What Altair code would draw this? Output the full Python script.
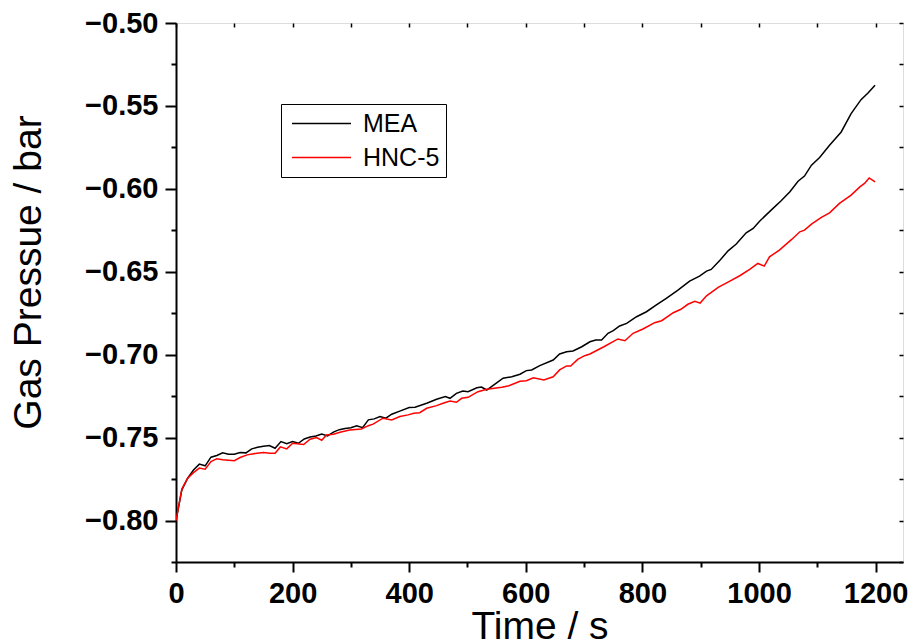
import altair as alt
import pandas as pd

series_names = ["MEA", "HNC-5"]
series_colors = ["#000000", "#ff0000"]

mea_t = [0, 10, 20, 30, 40, 50, 60, 70, 80, 90, 100, 110, 120, 130, 140, 150, 160, 170, 180, 190,
         200, 210, 220, 230, 240, 250, 260, 270, 280, 290, 300, 310, 320, 330, 340, 350, 360, 370,
         385, 400, 410, 430, 447, 462, 470, 481, 492, 501, 516, 524, 533, 547, 561, 576, 590, 601,
         610, 624, 647, 658, 670, 681, 696, 710, 720, 730, 741, 750, 761, 773, 790, 807, 824, 841,
         861, 881, 898, 910, 918, 933, 947, 961, 978, 990, 1001, 1015, 1024, 1038, 1053, 1067,
         1078, 1090, 1104, 1121, 1141, 1158, 1175, 1187, 1199]
mea_p = [-0.800, -0.7815, -0.7745, -0.7695, -0.766, -0.767, -0.7618, -0.7608, -0.7592, -0.760,
         -0.760, -0.759, -0.7592, -0.7568, -0.7558, -0.7552, -0.7548, -0.7564, -0.7524, -0.7536,
         -0.7524, -0.7534, -0.7508, -0.7496, -0.749, -0.7478, -0.749, -0.7467, -0.7452, -0.7445,
         -0.744, -0.7428, -0.744, -0.7393, -0.7387, -0.7373, -0.7383, -0.7359, -0.7339, -0.7319,
         -0.7317, -0.7293, -0.7269, -0.7253, -0.7263, -0.7233, -0.7219, -0.7223, -0.7199, -0.7195,
         -0.7213, -0.7178, -0.7142, -0.7133, -0.7118, -0.7096, -0.7092, -0.7066, -0.7032, -0.6996,
         -0.6982, -0.6978, -0.6952, -0.6922, -0.6911, -0.6911, -0.6871, -0.6855, -0.6827, -0.6811,
         -0.6771, -0.6741, -0.670, -0.666, -0.6611, -0.6556, -0.6526, -0.6496, -0.6486, -0.643,
         -0.6374, -0.6333, -0.6265, -0.6239, -0.6195, -0.6148, -0.6118, -0.6072, -0.6018, -0.5954,
         -0.5923, -0.5857, -0.5811, -0.5737, -0.5657, -0.5546, -0.5462, -0.5422, -0.5375]

hnc_t = [0, 10, 20, 30, 40, 50, 60, 70, 80, 100, 110, 122, 139, 150, 161, 170, 179, 190, 200, 219,
         230, 241, 250, 258, 270, 283, 298, 318, 330, 338, 355, 370, 384, 398, 408, 418, 430, 447,
         458, 470, 481, 490, 501, 518, 533, 559, 571, 590, 601, 613, 631, 647, 658, 670, 677, 689,
         701, 710, 734, 758, 770, 784, 801, 821, 833, 853, 866, 878, 890, 899, 910, 930, 950, 967,
         984, 998, 1009, 1018, 1035, 1056, 1070, 1078, 1090, 1107, 1121, 1138, 1158, 1173, 1181,
         1189, 1199]
hnc_p = [-0.800, -0.781, -0.7745, -0.7711, -0.7684, -0.769, -0.7645, -0.7627, -0.7634, -0.7639,
         -0.762, -0.7604, -0.7594, -0.759, -0.7594, -0.7594, -0.7556, -0.7568, -0.7534, -0.7542,
         -0.751, -0.750, -0.7516, -0.7484, -0.748, -0.7466, -0.7454, -0.7448, -0.7428, -0.7419,
         -0.7383, -0.7393, -0.7373, -0.7363, -0.7353, -0.735, -0.7323, -0.7307, -0.7293, -0.7279,
         -0.7287, -0.7263, -0.7257, -0.7223, -0.7208, -0.7196, -0.7187, -0.716, -0.7157, -0.7139,
         -0.7152, -0.7133, -0.7092, -0.7068, -0.7068, -0.7028, -0.7006, -0.6996, -0.6952, -0.6905,
         -0.6916, -0.6871, -0.6845, -0.6807, -0.6795, -0.6747, -0.6726, -0.6696, -0.6678, -0.6689,
         -0.6645, -0.6594, -0.6556, -0.6524, -0.6486, -0.645, -0.6466, -0.641, -0.6369, -0.6305,
         -0.6259, -0.6249, -0.6213, -0.6172, -0.6145, -0.6088, -0.6038, -0.5988, -0.5967, -0.5934,
         -0.5958]

x_ticks = [0, 100, 200, 300, 400, 500, 600, 700, 800, 900, 1000, 1100, 1200]
y_ticks = [-0.825, -0.80, -0.775, -0.75, -0.725, -0.70, -0.675, -0.65, -0.625, -0.60, -0.575,
           -0.55, -0.525, -0.50]

rows = []
for name, ts, ps in [(series_names[0], mea_t, mea_p), (series_names[1], hnc_t, hnc_p)]:
    for t, p in zip(ts, ps):
        rows.append({"series": name, "t": t, "p": p})
df = pd.DataFrame(rows)

FONT = "Liberation Sans"
x_scale = alt.Scale(domain=[0, 1247], nice=False, zero=False)
y_scale = alt.Scale(domain=[-0.825, -0.50], nice=False, zero=False)

x_major = "datum.value % 200 === 0"
y_major = "abs(round(datum.value * 1000)) % 50 === 0"

x_axis = alt.Axis(
    values=x_ticks,
    labelExpr="(" + x_major + ") ? format(datum.value, 'd') : ''",
    tickSize={"condition": {"test": x_major, "value": 10}, "value": 5},
    tickWidth=2, tickColor="black", domainColor="black", domainWidth=2,
    labelFont=FONT, labelFontSize=29, labelFontWeight="bold", labelColor="black",
    labelPadding=7, labelFlush=False, labelOverlap=False,
    grid=False, title="Time / s", titleFont=FONT, titleFontSize=39,
    titleFontWeight="normal", titleColor="black", titleBaseline="alphabetic", titleY=76,
)
y_axis = alt.Axis(
    values=y_ticks,
    labelExpr="(" + y_major + ") ? format(datum.value, '.2f') : ''",
    tickSize={"condition": {"test": y_major, "value": 11}, "value": 5},
    tickWidth=2, tickColor="black", domainColor="black", domainWidth=2,
    labelFont=FONT, labelFontSize=29, labelFontWeight="bold", labelColor="black",
    labelPadding=7, labelFlush=False, labelOverlap=False,
    grid=False, title="Gas Pressue / bar", titleFont=FONT, titleFontSize=39,
    titleFontWeight="normal", titleColor="black", titleBaseline="alphabetic",
    titleX=-136, titleY=249, titleAngle=270,
)

lines = alt.Chart(df).mark_line(strokeWidth=1.5, clip=True).encode(
    x=alt.X("t:Q", scale=x_scale, axis=x_axis),
    y=alt.Y("p:Q", scale=y_scale, axis=y_axis),
    color=alt.Color(
        "series:N",
        scale=alt.Scale(domain=series_names, range=series_colors),
        sort=series_names,
        legend=alt.Legend(
            orient="none", legendX=105, legendY=81, title=None,
            symbolType="M-2.36,0H2.36", symbolSize=625, symbolStrokeWidth=1.5,
            symbolOffset=21, symbolFillColor="transparent",
            labelFont=FONT, labelFontSize=25, labelColor="black", labelOffset=28,
            strokeColor="black", fillColor="white", padding=6, rowPadding=7,
        ),
    ),
)

top_axis = alt.Axis(orient="top", values=x_ticks, labels=False, domain=False, tickSize=4,
                    offset=-4, tickWidth=1.5, tickColor="black", grid=False, title=None)
right_axis = alt.Axis(orient="right", values=y_ticks, labels=False, domain=False, tickSize=4,
                      offset=-4, tickWidth=1.5, tickColor="black", grid=False, title=None)

frame = alt.Chart(df).mark_point(opacity=0).encode(
    x=alt.X("t:Q", scale=x_scale, axis=top_axis),
    y=alt.Y("p:Q", scale=y_scale, axis=right_axis),
)

chart = alt.layer(lines, frame).resolve_axis(x="independent", y="independent").properties(
    width=727, height=539,
    autosize=alt.AutoSizeParams(type="none"),
    padding={"left": 176, "top": 23, "right": 8, "bottom": 80},
).configure_view(stroke="black", strokeWidth=2).configure(background="white")

chart.save("out.html", embed_options={"renderer": "svg", "actions": False})
